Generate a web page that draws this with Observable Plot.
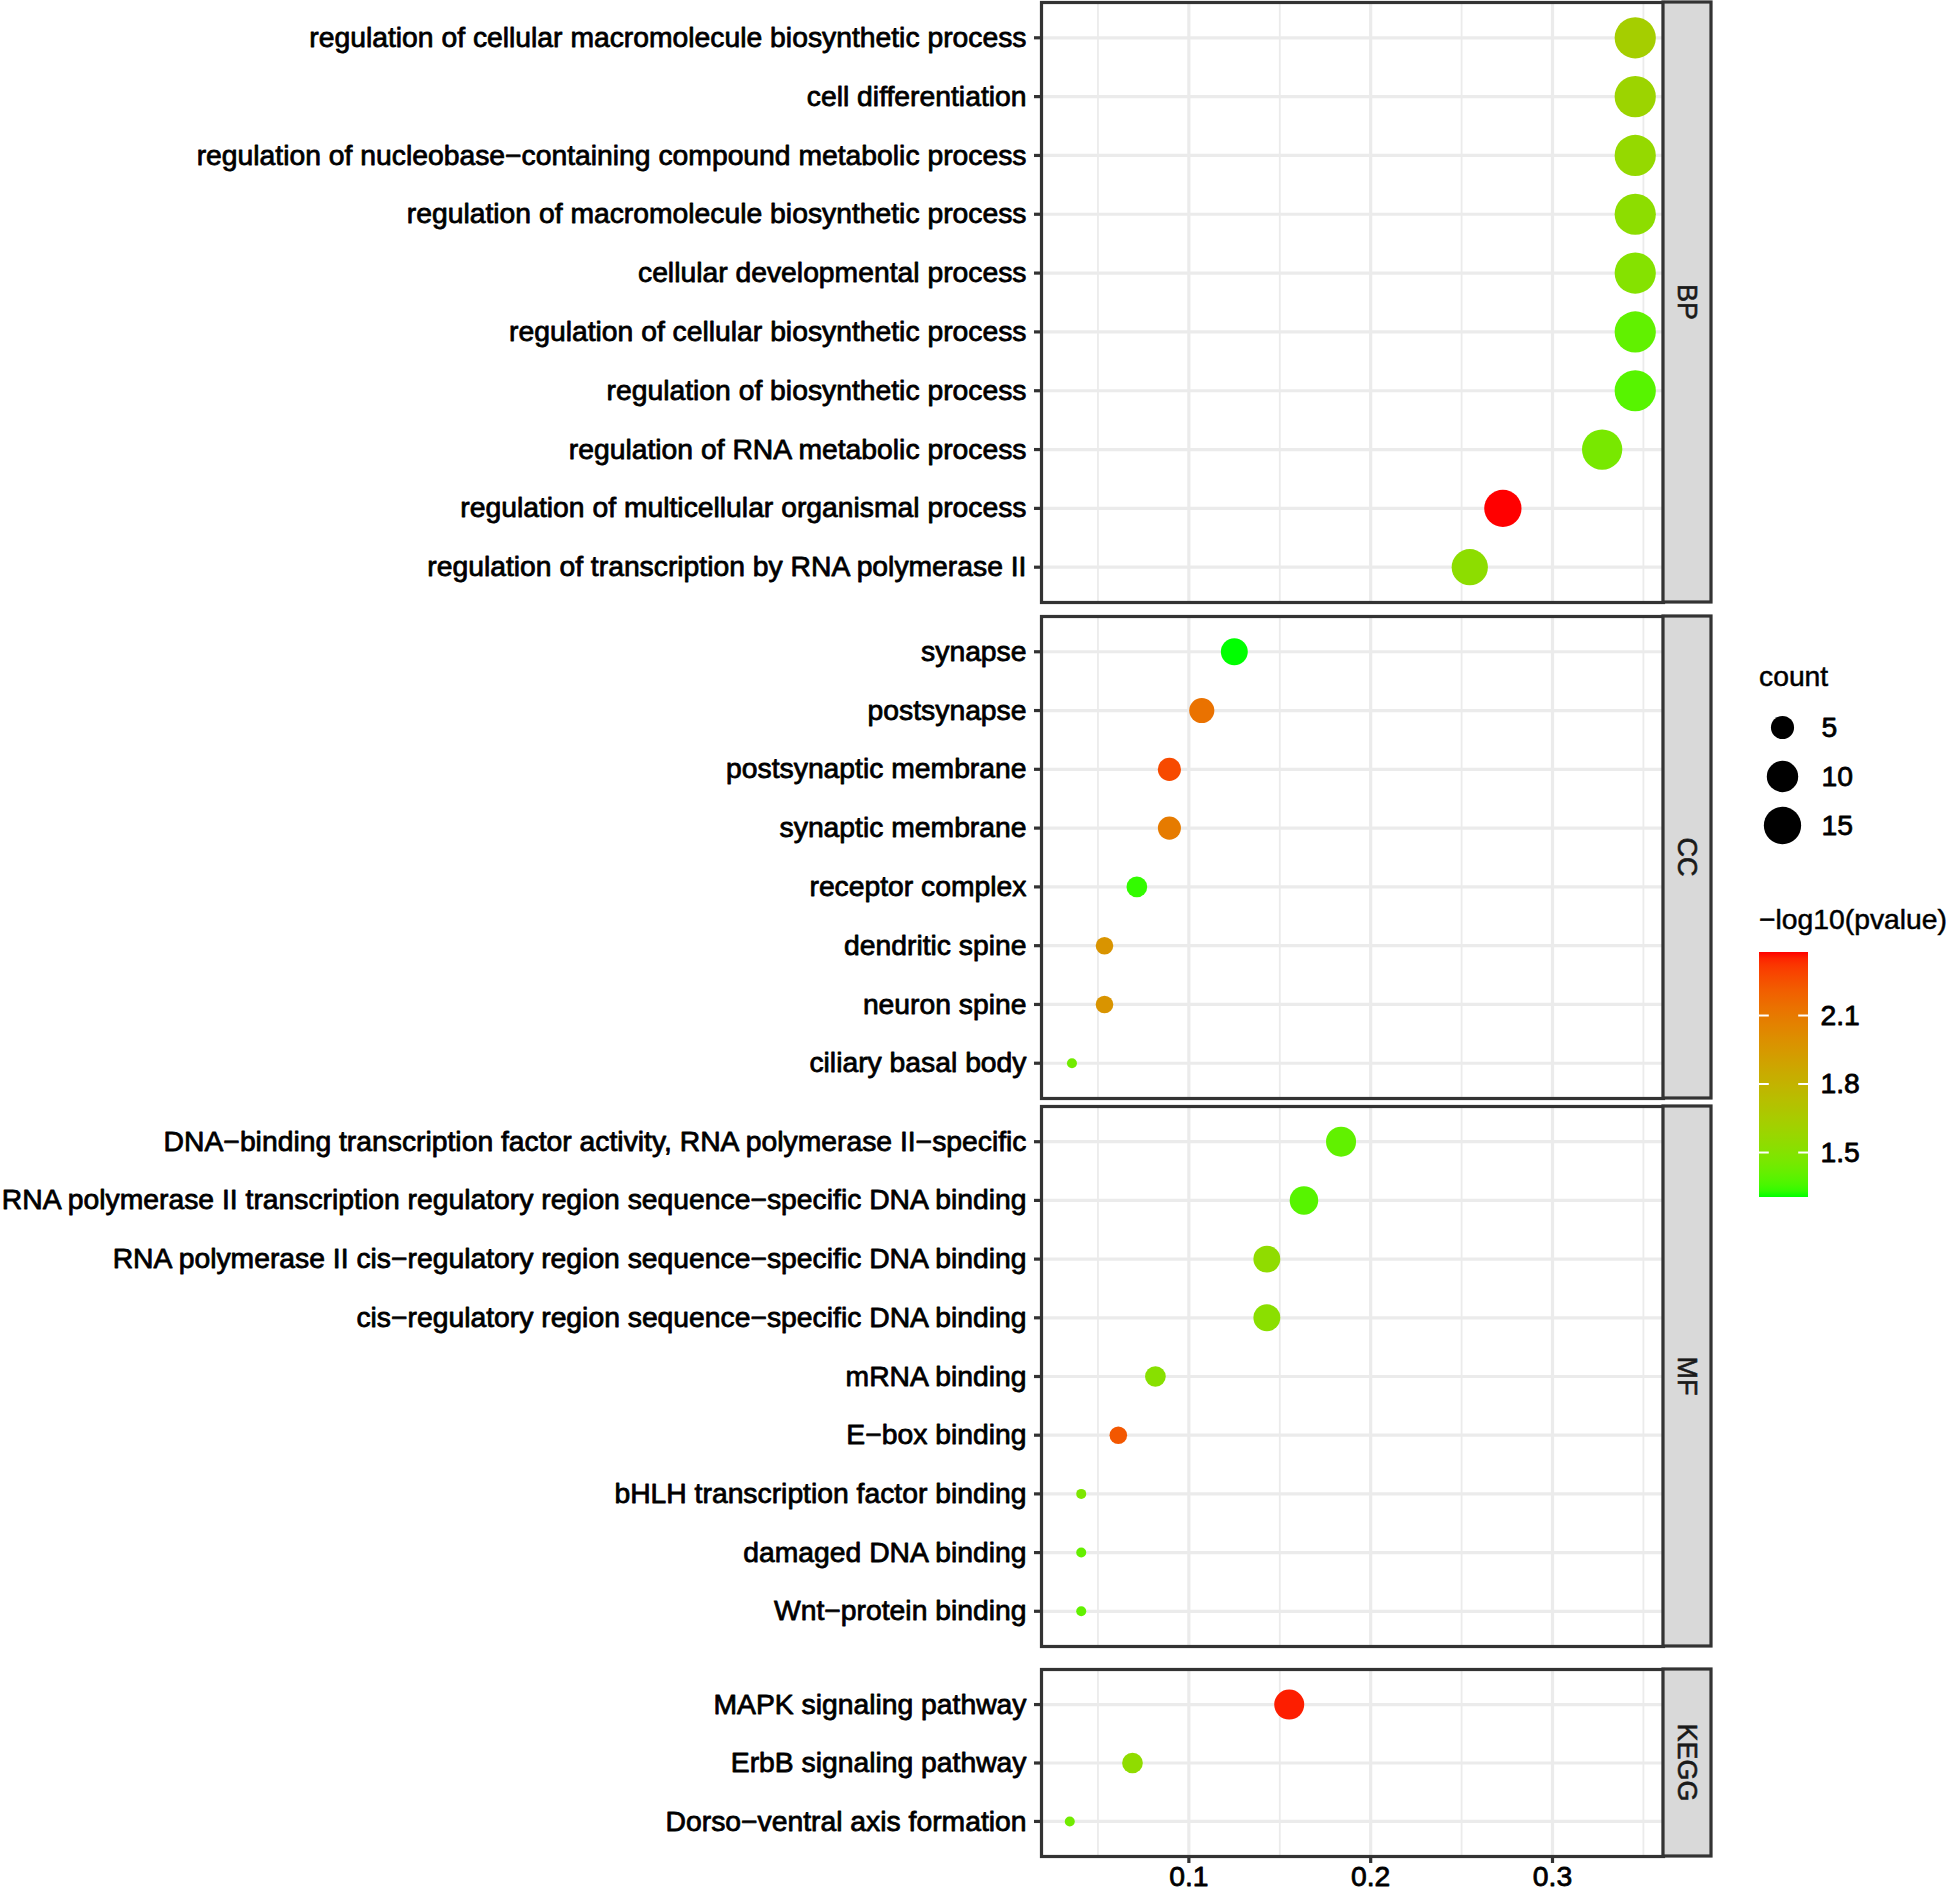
<!DOCTYPE html>
<html><head><meta charset="utf-8">
<script src="https://cdn.jsdelivr.net/npm/d3@7"></script>
<script src="https://cdn.jsdelivr.net/npm/@observablehq/plot@0.6"></script>
<style>
html,body{margin:0;padding:0;background:#fff;}
#root{position:relative;width:1952px;height:1892px;overflow:hidden;font-family:"Liberation Sans",Arial,Helvetica,sans-serif;background:#fff;}
.ttl{position:absolute;font-size:28.3px;line-height:28px;color:#000;white-space:nowrap;-webkit-text-stroke:0.5px #000;}
</style></head><body><div id="root"></div>
<script>
// ---------- data ----------
const bpTerms = [
  "regulation of cellular macromolecule biosynthetic process",
  "cell differentiation",
  "regulation of nucleobase−containing compound metabolic process",
  "regulation of macromolecule biosynthetic process",
  "cellular developmental process",
  "regulation of cellular biosynthetic process",
  "regulation of biosynthetic process",
  "regulation of RNA metabolic process",
  "regulation of multicellular organismal process",
  "regulation of transcription by RNA polymerase II"
];
const bpRatio = [0.3455, 0.3455, 0.3455, 0.3455, 0.3455, 0.3455, 0.3455, 0.3273, 0.2727, 0.2545];
const bpCount = [19, 19, 19, 19, 19, 19, 19, 18, 15, 14];
const bpLogP  = [1.63, 1.59, 1.56, 1.53, 1.50, 1.40, 1.38, 1.46, 2.376, 1.53];

const ccTerms = ["synapse", "postsynapse", "postsynaptic membrane", "synaptic membrane",
  "receptor complex", "dendritic spine", "neuron spine", "ciliary basal body"];
const ccRatio = [0.125, 0.1071, 0.0893, 0.0893, 0.0714, 0.0536, 0.0536, 0.0357];
const ccCount = [7, 6, 5, 5, 4, 3, 3, 2];
const ccLogP  = [1.303, 2.13, 2.27, 2.09, 1.33, 1.97, 1.97, 1.44];

const mfTerms = [
  "DNA−binding transcription factor activity, RNA polymerase II−specific",
  "RNA polymerase II transcription regulatory region sequence−specific DNA binding",
  "RNA polymerase II cis−regulatory region sequence−specific DNA binding",
  "cis−regulatory region sequence−specific DNA binding",
  "mRNA binding",
  "E−box binding",
  "bHLH transcription factor binding",
  "damaged DNA binding",
  "Wnt−protein binding"
];
const mfRatio = [0.1837, 0.1633, 0.1429, 0.1429, 0.0816, 0.0612, 0.0408, 0.0408, 0.0408];
const mfCount = [9, 8, 7, 7, 4, 3, 2, 2, 2];
const mfLogP  = [1.40, 1.38, 1.54, 1.52, 1.51, 2.23, 1.475, 1.41, 1.40];

const keggTerms = ["MAPK signaling pathway", "ErbB signaling pathway", "Dorso−ventral axis formation"];
const keggRatio = [0.1552, 0.0690, 0.0345];
const keggCount = [9, 4, 2];
const keggLogP  = [2.355, 1.54, 1.44];

const xTicks = [0.1, 0.2, 0.3];
const xMinor = [0.05, 0.15, 0.25, 0.35];
const sizeBreaks = [5, 10, 15];
const colorTicks = [1.5, 1.8, 2.1];

// ---------- shared scales ----------
const FONT = '"Liberation Sans", Arial, Helvetica, sans-serif';
const FS = 28.3;
const allRatio = [...bpRatio, ...ccRatio, ...mfRatio, ...keggRatio];
const allCount = [...bpCount, ...ccCount, ...mfCount, ...keggCount];
const allLogP = [...bpLogP, ...ccLogP, ...mfLogP, ...keggLogP];
const [xmn, xmx] = d3.extent(allRatio);
const xpad = 0.05 * (xmx - xmn);
const xDomain = [xmn - xpad, xmx + xpad];
const [cMin, cMax] = d3.extent(allCount);
const pExt = d3.extent(allLogP);

const rOpts = {type: "linear", transform: v => Math.sqrt((v - cMin) / (cMax - cMin)), domain: [0, 1], range: [5, 20.6]};
const colorOpts = {type: "linear", domain: pExt, range: ["#00ff00", "#ff0000"], interpolate: d3.interpolateLab};

const root = document.getElementById("root");
const styleBase = {fontFamily: FONT, fontSize: FS + "px", color: "#000", background: "transparent", overflow: "visible"};
const textHeavy = {textStroke: "#000", textStrokeWidth: 0.8};

function panel(terms, ratio, count, logp, strip, frameTop, frameBottom, showX) {
  const data = terms.map((t, i) => ({term: t, ratio: ratio[i], count: count[i], logp: logp[i]}));
  const mt = 2, mb = showX ? 1892 - frameBottom : 2;
  const h = frameBottom - frameTop + mt + mb;
  const plot = Plot.plot({
    width: 1715, height: h,
    marginLeft: 1041, marginRight: 52, marginTop: mt, marginBottom: mb,
    style: styleBase,
    x: {domain: xDomain, axis: null},
    y: {type: "point", domain: terms, padding: 0.6, round: false, axis: null},
    r: rOpts,
    color: colorOpts,
    marks: [
      Plot.ruleX(xMinor, {stroke: "#ebebeb", strokeWidth: 1.8}),
      Plot.ruleX(xTicks, {stroke: "#ebebeb", strokeWidth: 3.2}),
      Plot.ruleY(terms, {stroke: "#ebebeb", strokeWidth: 3.2}),
      Plot.dot(data, {x: "ratio", y: "term", r: "count", fill: "logp"}),
      Plot.frame({stroke: "#333333", strokeWidth: 3.2}),
      Plot.axisY({tickSize: 7, tickPadding: 8, stroke: "#333333", strokeWidth: 3.2, fill: "#000", fontSize: FS, label: null, ...textHeavy}),
      showX ? Plot.axisX(xTicks, {tickSize: 7, tickPadding: 2, stroke: "#333333", strokeWidth: 3.2, fill: "#000", fontSize: FS, label: null, tickFormat: d3.format(".1f"), ...textHeavy}) : null
    ]
  });
  plot.style.position = "absolute";
  plot.style.left = "0px";
  plot.style.top = (frameTop - mt) + "px";
  const xr = plot.scale("x").range;
  const sx = xr[1];
  const sw = 48;
  const svg = d3.select(plot);
  const g = svg.append("g");
  g.append("rect").attr("x", sx).attr("y", mt).attr("width", sw).attr("height", frameBottom - frameTop)
    .attr("fill", "#d9d9d9").attr("stroke", "#333333").attr("stroke-width", 3.2);
  g.append("text")
    .attr("transform", `translate(${sx + sw / 2},${mt + (frameBottom - frameTop) / 2}) rotate(90)`)
    .attr("text-anchor", "middle").attr("dy", "0.35em")
    .attr("font-size", 27).attr("fill", "#1a1a1a").attr("font-family", FONT)
    .attr("stroke", "#1a1a1a").attr("stroke-width", 0.6)
    .text(strip);
  root.appendChild(plot);
  return plot;
}

const pBP = panel(bpTerms, bpRatio, bpCount, bpLogP, "BP", 2, 602, false);
panel(ccTerms, ccRatio, ccCount, ccLogP, "CC", 616, 1098, false);
panel(mfTerms, mfRatio, mfCount, mfLogP, "MF", 1106, 1646, false);
panel(keggTerms, keggRatio, keggCount, keggLogP, "KEGG", 1669, 1856, true);

// ---------- legends ----------
function title(text, left, top) {
  const d = document.createElement("div");
  d.className = "ttl"; d.textContent = text;
  d.style.left = left + "px"; d.style.top = top + "px";
  root.appendChild(d);
}
title("count", 1759, 662);
title("−log10(pvalue)", 1759, 905);

const sizeLeg = Plot.plot({
  width: 160, height: 140, marginLeft: 0, marginRight: 0, marginTop: 27, marginBottom: 15,
  style: styleBase,
  x: {domain: [0, 1], axis: null},
  y: {type: "point", domain: sizeBreaks, padding: 0, round: false, axis: null},
  r: rOpts,
  marks: [
    Plot.dot(sizeBreaks, {y: d => d, r: d => d, fill: "#000", frameAnchor: "left", dx: 42}),
    Plot.text(sizeBreaks, {y: d => d, text: d => String(d), frameAnchor: "left", dx: 81, textAnchor: "start", fontSize: FS, fill: "#000", stroke: "#000", strokeWidth: 0.8})
  ]
});
sizeLeg.style.position = "absolute";
sizeLeg.style.left = "1740px";
sizeLeg.style.top = "700px";
root.appendChild(sizeLeg);

const cb = Plot.plot({
  width: 120, height: 269, marginLeft: 0, marginRight: 71, marginTop: 12, marginBottom: 12,
  style: styleBase,
  x: {domain: [0, 1], axis: null},
  y: {domain: pExt, axis: null},
  marks: [
    Plot.ruleY(colorTicks, {x1: 0, x2: 0.2, stroke: "white", strokeWidth: 2}),
    Plot.ruleY(colorTicks, {x1: 0.8, x2: 1, stroke: "white", strokeWidth: 2}),
    Plot.axisY(colorTicks, {anchor: "right", tickSize: 0, tickPadding: 12, fontSize: FS, fill: "#000", label: null, tickFormat: d3.format(".1f"), ...textHeavy})
  ]
});
{
  const cs = pBP.scale("color");
  const ys = cb.scale("y"), xs = cb.scale("x");
  const s = d3.select(cb);
  const y0 = ys.apply(pExt[1]), y1 = ys.apply(pExt[0]);
  const x0 = xs.apply(0), x1 = xs.apply(1);
  s.insert("rect", ":first-child")
    .attr("x", x0).attr("y", y0).attr("width", x1 - x0).attr("height", y1 - y0)
    .attr("fill", "url(#cbgrad)");
  const lg = s.insert("defs", ":first-child").append("linearGradient")
    .attr("id", "cbgrad").attr("x1", 0).attr("y1", 1).attr("x2", 0).attr("y2", 0);
  const n = 40;
  for (let i = 0; i <= n; i++) {
    const v = pExt[0] + (pExt[1] - pExt[0]) * i / n;
    lg.append("stop").attr("offset", i / n).attr("stop-color", cs.apply(v));
  }
}
cb.style.position = "absolute";
cb.style.left = "1759px";
cb.style.top = "940px";
root.appendChild(cb);
</script>
</body></html>
